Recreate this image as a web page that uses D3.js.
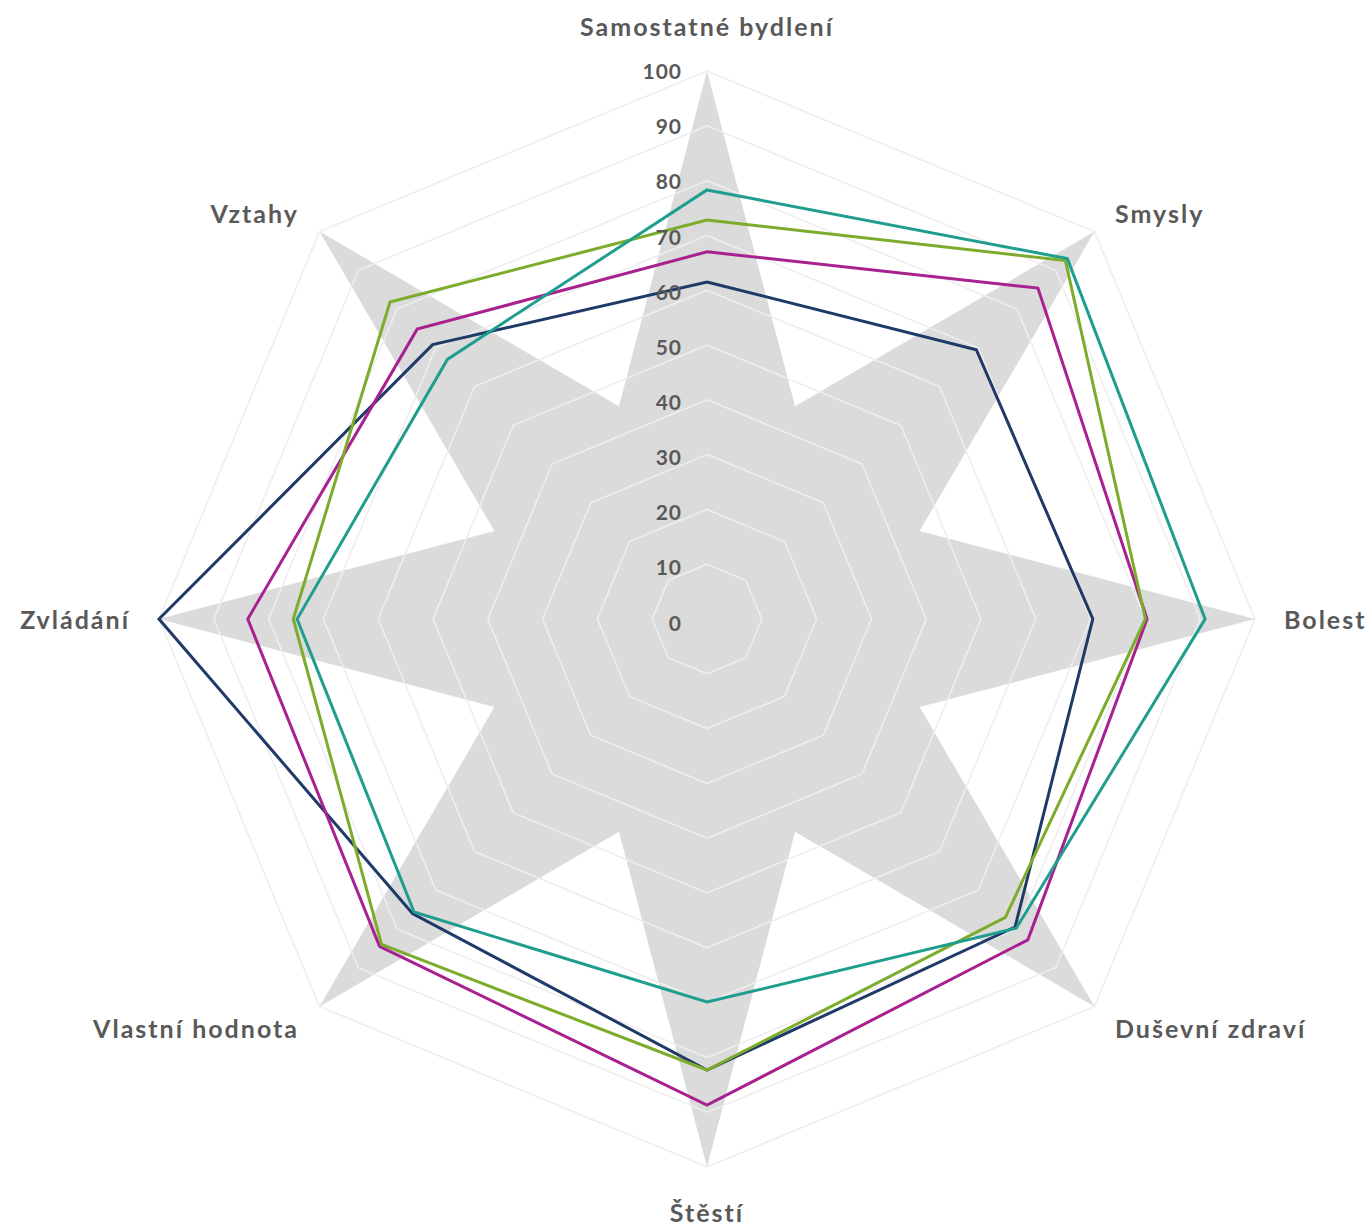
<!DOCTYPE html>
<html>
<head>
<meta charset="utf-8">
<script src="https://cdn.jsdelivr.net/npm/d3@7"></script>
<style>
  html, body { margin: 0; padding: 0; background: #ffffff; }
  svg { display: block; }
  text { font-family: "Lato", "DejaVu Sans", sans-serif; }
</style>
</head>
<body>
<svg id="chart" width="1367" height="1229"></svg>
<script>
// ---- data ----
const categories = ["Samostatné bydlení", "Smysly", "Bolest", "Duševní zdraví", "Štěstí", "Vlastní hodnota", "Zvládání", "Vztahy"];
const tickValues = [0, 10, 20, 30, 40, 50, 60, 70, 80, 90, 100];
const seriesNames = ["Série 1", "Série 2", "Série 3", "Série 4"];
const seriesNavy    = [61.5, 69.5, 70.4, 79.5, 82.3, 76.0, 100.0, 70.8];
const seriesMagenta = [67.0, 85.4, 80.3, 82.8, 88.7, 84.5, 83.8, 74.8];
const seriesGreen   = [72.8, 92.5, 80.0, 77.0, 82.3, 84.0, 75.5, 81.8];
const seriesTeal    = [78.3, 93.0, 90.9, 79.8, 69.9, 75.6, 74.8, 67.0];
// background star: value on each axis and half-way between axes
const starValues = [100, 42, 100, 42, 100, 42, 100, 42, 100, 42, 100, 42, 100, 42, 100, 42];
const seriesColors = ["#1f3a68", "#a8218e", "#7dac2c", "#1f9e8e"];

const W = 1367, H = 1229;
const cx = 707, cy = 619, R = 548;
const svg = d3.select("#chart");
const g = svg.append("g").attr("transform", `translate(${cx},${cy})`);

const r = d3.scaleLinear().domain([0, 100]).range([0, R]);
const n = categories.length;
const angle = d3.scaleLinear().domain([0, n]).range([0, 2 * Math.PI]);

// star background
const starLine = d3.lineRadial()
  .angle((d, i) => angle(i / 2))
  .radius(d => r(d))
  .curve(d3.curveLinearClosed);
g.append("path")
  .attr("d", starLine(starValues))
  .attr("fill", "#dbdbdb")
  .attr("stroke", "none");

// grid rings
const ringLine = d3.lineRadial()
  .angle((d, i) => angle(i))
  .radius(d => r(d))
  .curve(d3.curveLinearClosed);
tickValues.filter(v => v > 0).forEach(v => {
  g.append("path")
    .attr("d", ringLine(categories.map(() => v)))
    .attr("fill", "none")
    .attr("stroke", "#eeeeee")
    .attr("stroke-width", 1.6);
});

// series lines
const allSeries = [seriesNavy, seriesMagenta, seriesGreen, seriesTeal];
allSeries.forEach((s, k) => {
  g.append("path")
    .attr("d", ringLine(s))
    .attr("fill", "none")
    .attr("stroke", seriesColors[k])
    .attr("stroke-width", 3)
    .attr("stroke-linejoin", "miter");
});

// tick labels
g.selectAll("text.tick").data(tickValues).join("text")
  .attr("class", "tick")
  .attr("x", -25)
  .attr("y", d => -r(d) * 1.006 + 3)
  .attr("text-anchor", "end")
  .attr("dominant-baseline", "central")
  .attr("font-size", 21)
  .attr("font-weight", 700)
  .attr("letter-spacing", 1)
  .attr("fill", "#595959")
  .text(d => d);

// category labels
const LR = 577;
g.selectAll("text.cat").data(categories).join("text")
  .attr("class", "cat")
  .each(function(d, i) {
    const a = angle(i);
    const sx = Math.sin(a), sy = -Math.cos(a);
    let x = LR * sx, y = LR * sy;
    let anchor = "middle";
    if (sx > 0.1) anchor = "start";
    else if (sx < -0.1) anchor = "end";
    if (Math.abs(sx) < 0.1) y += sy * 16;
    if (Math.abs(sx) > 0.1 && Math.abs(sy) > 0.1) y += (sy < 0 ? 2 : 1);
    d3.select(this)
      .attr("x", x)
      .attr("y", y)
      .attr("text-anchor", anchor);
  })
  .attr("dominant-baseline", "central")
  .attr("font-size", 25)
  .attr("font-weight", 700)
  .attr("letter-spacing", 2)
  .attr("fill", "#595959")
  .text(d => d);
</script>
</body>
</html>
